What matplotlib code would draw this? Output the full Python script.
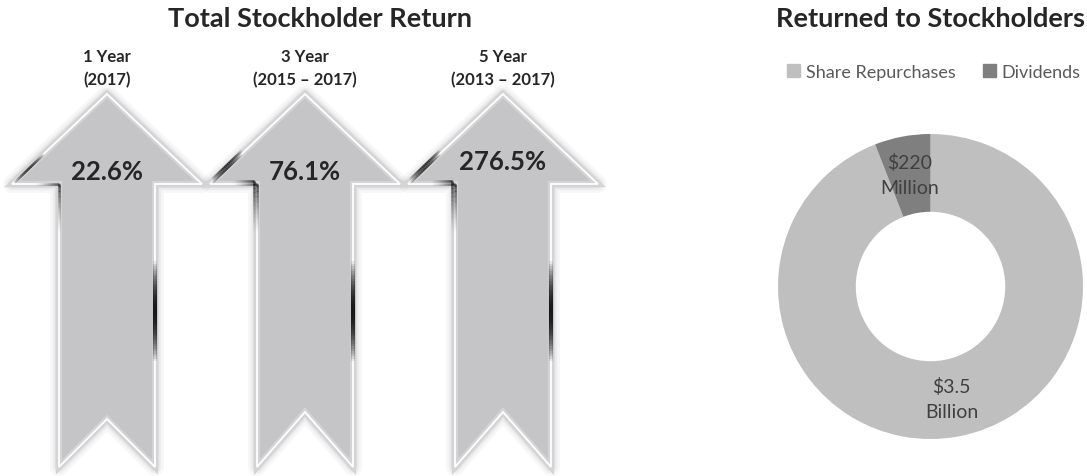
import numpy as np
import matplotlib.pyplot as plt
from matplotlib.patches import Polygon, Patch
from matplotlib.collections import LineCollection

# data
periods = ['1 Year', '3 Year', '5 Year']
ranges = ['(2017)', '(2015 – 2017)', '(2013 – 2017)']
tsr = [22.6, 76.1, 276.5]

returned_labels = ['Share Repurchases', 'Dividends']
returned_values = [3500, 220]          # $ millions
returned_text = ['$3.5\nBillion', '$220\nMillion']

W, H = 1087, 477
plt.rcParams['font.family'] = ['Lato', 'DejaVu Sans']
DARK = '#262626'
FILL = '#c5c5c7'
LIGHT = '#bfbfbf'
DIV = '#7f7f7f'

fig = plt.figure(figsize=(W / 100, H / 100), dpi=100)
ax = fig.add_axes([0, 0, 1, 1])
ax.set_xlim(0, W)
ax.set_ylim(H, 0)
ax.axis('off')


def streak(p0, p1, lw=2.0, peak=0.9, mode='sin', n=40):
    # dark metallic glint along an edge, fading at the ends
    t = np.linspace(0, 1, n + 1)
    x = p0[0] + (p1[0] - p0[0]) * t
    y = p0[1] + (p1[1] - p0[1]) * t
    segs = [[(x[i], y[i]), (x[i + 1], y[i + 1])] for i in range(n)]
    tm = (t[:-1] + t[1:]) / 2
    if mode == 'sin':
        a = np.sin(np.pi * tm) ** 0.8
    elif mode == 'in':
        a = tm ** 1.5
    else:
        a = (1 - tm) ** 1.5
    cols = [(0.05, 0.05, 0.05, peak * v) for v in a]
    ax.add_collection(LineCollection(segs, colors=cols, linewidths=lw,
                                     capstyle='butt', zorder=6))


def arrow(cx, notch, double):
    tip, base, bot = 95, 185, 468
    hw, sw = 95, 48
    pts = [(cx, tip), (cx + hw, base), (cx + sw, base), (cx + sw, bot),
           (cx, bot - notch), (cx - sw, bot), (cx - sw, base), (cx - hw, base)]
    # soft shadow
    for lw, al in [(13, 0.03), (9, 0.04), (6, 0.06)]:
        ax.add_patch(Polygon(pts, closed=True, fill=False, edgecolor='k',
                             alpha=al, lw=lw, joinstyle='round', zorder=2))
    ax.add_patch(Polygon(pts, closed=True, facecolor=FILL, edgecolor='#d4d4d6',
                         lw=4.5, joinstyle='miter', zorder=3))
    ax.add_patch(Polygon(pts, closed=True, fill=False, edgecolor='white',
                         lw=1.3, joinstyle='miter', zorder=4))
    offs = [0, 3.5] if double else [0]
    for o in offs:
        streak((cx - hw + 2, base - 1 - o), (cx - hw + 32, base - 30 - o), lw=1.8)
        streak((cx - hw + 22, base - o), (cx - sw - o, base - o), lw=1.8, mode='in')
        streak((cx - sw - o, base - o), (cx - sw - o, base + 50), lw=1.8, mode='out')
    streak((cx + sw, 262), (cx + sw, 362), lw=3.0, peak=0.95)


centres = [107, 305, 503]
notches = [48, 55, 55]
value_y = [172, 172, 162]
for i, cx in enumerate(centres):
    arrow(cx, notches[i], i > 0)
    ax.text(cx, 57, periods[i], ha='center', va='center', fontsize=12,
            fontweight='bold', color=DARK)
    ax.text(cx, 80, ranges[i], ha='center', va='center', fontsize=12,
            fontweight='bold', color=DARK)
    ax.text(cx, value_y[i], f'{tsr[i]}%', ha='center', va='center',
            fontsize=18.5, fontweight='bold', color=DARK, zorder=8)

ax.text(320, 19, 'Total Stockholder Return', ha='center', va='center',
        fontsize=19.5, fontweight='bold', color=DARK)
ax.text(930, 19, 'Returned to Stockholders', ha='center', va='center',
        fontsize=19.5, fontweight='bold', color=DARK)

# donut
cx2, cy2, R = 930.5, 287.5, 152.5
side = 2.5 * R
ax2 = fig.add_axes([(cx2 - side / 2) / W, (H - cy2 - side / 2) / H, side / W, side / H])
total = sum(returned_values)
start = 90 + 360 * returned_values[1] / total
wedges, _ = ax2.pie(returned_values, colors=[LIGHT, DIV], startangle=start,
                    counterclock=True, radius=1,
                    wedgeprops=dict(width=0.51, edgecolor='none'))
for w, txt in zip(wedges, returned_text):
    ang = np.deg2rad((w.theta1 + w.theta2) / 2)
    ax2.text(0.745 * np.cos(ang), 0.745 * np.sin(ang), txt, ha='center',
             va='center', fontsize=14, color='#404040', linespacing=1.55)

fig.legend(handles=[Patch(color=LIGHT), Patch(color=DIV)], labels=returned_labels,
           loc='center', bbox_to_anchor=(934 / W, 1 - 73 / H), ncol=2,
           frameon=False, fontsize=13, handlelength=0.7, handleheight=0.7,
           handletextpad=0.35, columnspacing=1.5, labelcolor='#595959')

fig.savefig('out.png', dpi=100)
